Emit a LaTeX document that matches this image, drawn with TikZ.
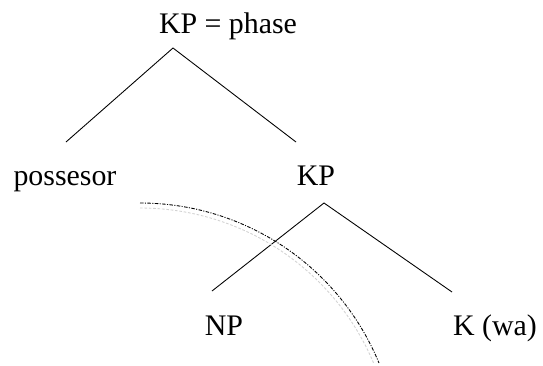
\documentclass[tikz,border=0pt]{standalone}
\usepackage{fontspec}
\setmainfont{Liberation Serif}
\usepackage{tikz}
\usetikzlibrary{positioning, calc}

\tikzset{
    word/.style={anchor=base, inner sep=0pt, font=\fontsize{17}{20}\selectfont},
    branch/.style={line width=0.5pt},
    phaseline/.style={line width=0.5pt, dash pattern=on 2pt off 0.8pt on 0.6pt off 0.8pt},
    phaseshade/.style={line width=0.5pt, gray!35, dash pattern=on 1.5pt off 1pt}
}

\begin{document}
\begin{tikzpicture}[x=0.02cm, y=-0.02cm]
        \useasboundingbox (0,0) rectangle (543,365);

        % labels
        \node[word] (top)  at (228,33)  {KP = phase};
        \node[word] (poss) at (65,185)  {possesor};
        \node[word] (kp)   at (316,185) {KP};
        \node[word] (np)   at (224,335) {NP};
        \node[word] (k)    at (495,335) {K (wa)};

        % branch points
        \coordinate (A) at (173,48);
        \coordinate (B) at (66,142);
        \coordinate (C) at (296,142);

        \coordinate (D) at (324,203);
        \coordinate (E) at (212,291);
        \coordinate (F) at (452,292);

        % the tree
        \draw [branch] (B) -- (A) -- (C);
        \draw [branch] (E) -- (D) -- (F);

        % phase boundary
        \coordinate (P) at (140,203);
        \coordinate (Q) at (140,208);
        \draw [phaseshade] (Q) arc[start angle=-90, end angle=-22.9, x radius=253.5, y radius=253.5];
        \draw [phaseline] (P) arc[start angle=-90, end angle=-22.4, x radius=258.5, y radius=258.5];
    \end{tikzpicture}
\end{document}
